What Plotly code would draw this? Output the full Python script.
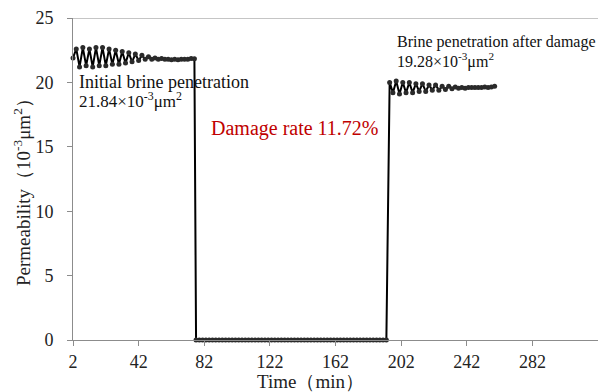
import plotly.graph_objects as go

# ---- data ----
left_time = list(range(2, 78, 2))          # 2 .. 76 min
left_perm = [21.9, 22.6, 21.2, 22.7, 21.3, 22.6, 21.2, 22.7, 21.3, 22.7,
             21.3, 22.6, 21.4, 22.5, 21.4, 22.4, 21.5, 22.3, 21.6, 22.2,
             21.7, 22.1, 21.8, 22.0, 21.8, 21.9, 21.8, 21.85, 21.8, 21.8,
             21.75, 21.8, 21.75, 21.8, 21.8, 21.8, 21.85, 21.84]

zero_time = list(range(77, 195, 2))        # 77 .. 193 min
zero_perm = [0, 0, 0, 0, 0, 0, 0, 0, 0, 0,
             0, 0, 0, 0, 0, 0, 0, 0, 0, 0,
             0, 0, 0, 0, 0, 0, 0, 0, 0, 0,
             0, 0, 0, 0, 0, 0, 0, 0, 0, 0,
             0, 0, 0, 0, 0, 0, 0, 0, 0, 0,
             0, 0, 0, 0, 0, 0, 0, 0, 0]

right_time = list(range(195, 260, 2))      # 195 .. 259 min
right_perm = [20.0, 19.2, 20.1, 19.1, 20.0, 19.2, 20.0, 19.2, 19.9, 19.3,
              19.9, 19.3, 19.8, 19.4, 19.8, 19.4, 19.7, 19.45, 19.7, 19.5,
              19.65, 19.55, 19.6, 19.55, 19.6, 19.6, 19.6, 19.6, 19.6, 19.65,
              19.6, 19.65, 19.7]

x_ticks = [2, 42, 82, 122, 162, 202, 242, 282]
y_ticks = [0, 5, 10, 15, 20, 25]

time = left_time + zero_time + right_time
perm = left_perm + zero_perm + right_perm

SERIF = "Times New Roman, Liberation Serif, serif"
W, H = 602, 392
L, R, T, B = 73, 4, 18, 52
PW, PH = W - L - R, H - T - B


def px(xp):
    return (xp - L) / PW


def py(yp):
    return (H - B - yp) / PH


fig = go.Figure()
fig.add_trace(go.Scatter(
    x=time, y=perm, mode="lines+markers",
    line=dict(color="black", width=2),
    marker=dict(symbol="circle", size=5, color="#2a2a2a"),
    cliponaxis=False, showlegend=False,
))

fig.update_layout(
    width=W, height=H,
    margin=dict(l=L, r=R, t=T, b=B),
    paper_bgcolor="white", plot_bgcolor="white",
    font=dict(family=SERIF, size=18, color="#222222"),
    xaxis=dict(range=[2, 322], tickvals=x_ticks, ticktext=[str(v) for v in x_ticks],
               automargin=False,
               showgrid=False, zeroline=False, showline=True, linecolor="#8c8c8c",
               linewidth=1, ticks="outside", ticklen=5, tickcolor="#8c8c8c",
               ticklabelstandoff=0, tickfont=dict(family=SERIF, size=18, color="#222222")),
    yaxis=dict(range=[0, 25], tickvals=y_ticks, automargin=False,
               showgrid=False, zeroline=False, showline=True, linecolor="#8c8c8c",
               linewidth=1, ticks="outside", ticklen=5, tickcolor="#8c8c8c",
               ticklabelstandoff=10, tickfont=dict(family=SERIF, size=18, color="#222222")),
)

# top border line at y = 25
fig.add_shape(type="line", xref="paper", yref="y", x0=0, x1=1, y0=25, y1=25,
              line=dict(color="#8c8c8c", width=1))

ann = [
    dict(x=78, y=82, text="Initial brine penetration", size=18, color="#111111"),
    dict(x=78, y=100, text="21.84×10<sup>-3</sup>μm<sup>2</sup>", size=17, color="#111111"),
    dict(x=396, y=42, text="Brine penetration after damage", size=16, color="#111111"),
    dict(x=396, y=60, text="19.28×10<sup>-3</sup>μm<sup>2</sup>", size=16, color="#111111"),
    dict(x=210, y=128, text="Damage rate 11.72%", size=20, color="#C00000"),
]
for a in ann:
    fig.add_annotation(x=px(a["x"]), y=py(a["y"]), xref="paper", yref="paper",
                       xanchor="left", yanchor="middle", showarrow=False, text=a["text"],
                       borderpad=0,
                       font=dict(family=SERIF, size=a["size"], color=a["color"]))

# axis titles
fig.add_annotation(x=px(310), y=py(381), xref="paper", yref="paper",
                   xanchor="center", yanchor="middle", showarrow=False,
                   text="Time（min）", font=dict(family=SERIF, size=19, color="#222222"))
fig.add_annotation(x=px(22), y=py(188), xref="paper", yref="paper",
                   xanchor="center", yanchor="middle", showarrow=False, textangle=-90,
                   text="Permeability（10<sup>-3</sup>μm<sup>2</sup>）",
                   font=dict(family=SERIF, size=19, color="#222222"))

fig.write_html("out.html", config={"displayModeBar": False})

# remove the default page margin so the figure sits at the window's top-left corner
with open("out.html", "r", encoding="utf-8") as f:
    html = f.read()
html = html.replace("<head>", "<head><style>html,body{margin:0;padding:0;overflow:hidden;}</style>", 1)
with open("out.html", "w", encoding="utf-8") as f:
    f.write(html)
